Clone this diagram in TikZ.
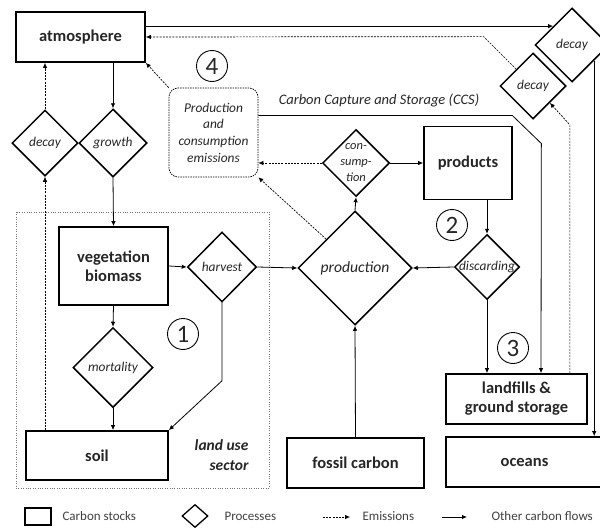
\documentclass[tikz,border=0pt]{standalone}
\usepackage{fontspec}
\setmainfont{Carlito}
\usetikzlibrary{shapes.geometric,arrows.meta}

\begin{document}
\begin{tikzpicture}[x=1pt,y=-1pt,
    stock/.style={draw, line width=1.7pt, inner sep=0pt, align=center,
      text=black!85, font=\fontsize{16.5}{19}\selectfont\bfseries},
    proc/.style={diamond, draw, line width=1.5pt, inner sep=0pt, aspect=1,
      text=black!85, font=\fontsize{13.4}{16}\selectfont\itshape},
    flow/.style={line width=0.8pt, -{Latex[length=5pt,width=4.5pt]}},
    emis/.style={line width=0.7pt, dash pattern=on 2pt off 1.2pt,
      -{Latex[length=5pt,width=4.5pt]}},
    num/.style={circle, draw, line width=0.9pt, minimum size=31pt, inner sep=0pt,
      text=black!85, font=\fontsize{25}{25}\selectfont},
    keytext/.style={anchor=west, text=black!75, font=\fontsize{13}{15}\selectfont}]

  \useasboundingbox (0,0) rectangle (600,530);

  % land use sector
  \draw[black!55, line width=0.9pt, dash pattern=on 1pt off 1.4pt] (16,212) rectangle (269,488);
  \node[anchor=east, align=right, text=black!85,
    font=\fontsize{15.5}{20}\selectfont\bfseries\itshape] (lus) at (252,455) {land use\\sector};

  % Carbon stocks
  \node[stock, minimum width=129pt, minimum height=50pt] (atm) at (80.5,37) {atmosphere};
  \node[stock, minimum width=109pt, minimum height=78pt] (veg) at (113.5,266) {vegetation\\biomass};
  \node[stock, minimum width=142pt, minimum height=49pt] (soil) at (97,455.5) {soil};
  \node[stock, minimum width=88pt, minimum height=73pt] (prd) at (468,163) {products};
  \node[stock, minimum width=141pt, minimum height=50pt] (lf) at (516.5,399) {landfills \&\\ground storage};
  \node[stock, minimum width=137pt, minimum height=50pt] (fos) at (355.5,463) {fossil carbon};
  \node[stock, minimum width=157pt, minimum height=50pt] (oce) at (524.5,462) {oceans};

  % Processes
  \node[proc, minimum size=66pt] (dec) at (45,143) {decay};
  \node[proc, minimum size=68pt] (gro) at (113,143) {growth};
  \node[proc, minimum width=69pt, minimum height=70pt] (har) at (222,267) {harvest};
  \node[proc, minimum size=80pt] (mor) at (113,367.5) {mortality};
  \node[proc, minimum size=114pt, font=\fontsize{15.6}{18}\selectfont\itshape] (prod) at (355,268) {production};
  \node[proc, minimum size=67pt, inner sep=-6pt, align=center,
    font=\fontsize{12.5}{16}\selectfont\itshape] (cons) at (356,163) {con-\\sump-\\tion};
  \node[proc, minimum size=65pt] (disc) at (487,267) {\makebox[0pt]{discarding}};
  \node[proc, minimum size=74pt] (decR) at (572,45) {decay};
  \node[proc, minimum size=66pt] (decL) at (533,86) {decay};

  % emissions box
  \node[draw, rounded corners=9pt, line width=0.7pt, dash pattern=on 1.5pt off 1pt,
    minimum width=89pt, minimum height=89pt, align=center, text=black!85,
    font=\fontsize{13.4}{16.7}\selectfont\itshape] (pce) at (213.5,132.5)
    {Production\\and\\consumption\\emissions};

  % numbers
  \node[num] (n1) at (183,334) {1};
  \node[num] (n2) at (452,225) {2};
  \node[num] (n3) at (513,348) {3};
  \node[num] (n4) at (212,66) {4};

  % other carbon flows
  \draw[flow] (atm.south -| gro.north) -- (gro.north);
  \draw[flow] (gro.south) -- (veg.north);
  \draw[flow] (veg.east) -- (har.west);
  \draw[flow] (har.east) -- (prod.west);
  \draw[flow] (veg.south) -- (mor.north);
  \draw[flow] (mor.south) -- (soil.north -| mor.south);
  \draw[flow] (har.south) -- ++(0,78) -- (soil.north east);
  \draw[flow] (prod.north) -- (cons.south);
  \draw[flow] (cons.east) -- (prd.west);
  \draw[flow] (prd.south -| disc.north) -- (disc.north);
  \draw[flow] (disc.west) -- (prod.east);
  \draw[flow] (disc.south) -- (disc.south |- lf.north);
  \draw[flow] (fos.north) -- (prod.south);
  \draw[flow] (atm.east |- decR.north west) -- (decR.north west);
  \draw[flow] (decR.-35) -- (decR.-35 |- oce.north);

  % Carbon Capture and Storage
  \draw[flow] ([yshift=17pt]pce.east) -- ++(254,0) -- ++(29,28) -- ([xshift=24.5pt]lf.north);
  \node[text=black!85, font=\fontsize{14.5}{17}\selectfont\itshape] (ccs) at (379,100)
    {Carbon Capture and Storage (CCS)};

  % emissions
  \draw[emis] (dec.north) -- (dec.north |- atm.south);
  \draw[emis] (dec.south |- soil.north) -- (dec.south);
  \draw[emis] (pce.north west) -- (atm.south east);
  \draw[emis] (cons.west) -- (cons.west -| pce.east);
  \draw[emis] (prod.north west) -- (pce.south east);
  \draw[emis] (decL.north west) -- ++(-32.5,-32.5) -- (atm.east);
  \path (decL.south east) ++(20,22) coordinate (lfup);
  \draw[emis] (lf.north -| lfup) -- (lfup) -- (decL.south east);

  % legend
  \node[draw, line width=1.3pt, minimum width=26pt, minimum height=17pt] (kstock) at (38,516.5) {};
  \node[keytext] (kstockt) at (59,516.5) {Carbon stocks};
  \node[diamond, draw, line width=1.3pt, minimum width=26pt, minimum height=23pt,
    inner sep=0pt] (kproc) at (195,516) {};
  \node[keytext] (kproct) at (221,516.5) {Processes};
  \coordinate (kemA) at (323,517);
  \coordinate (kemB) at (350,517);
  \node[keytext] (kemt) at (359,516.5) {Emissions};
  \draw[emis] (kemA) -- (kemB);
  \coordinate (kflA) at (442,517);
  \coordinate (kflB) at (467,517);
  \node[keytext] (kflt) at (488,516.5) {Other carbon flows};
  \draw[flow] (kflA) -- (kflB);
\end{tikzpicture}
\end{document}
